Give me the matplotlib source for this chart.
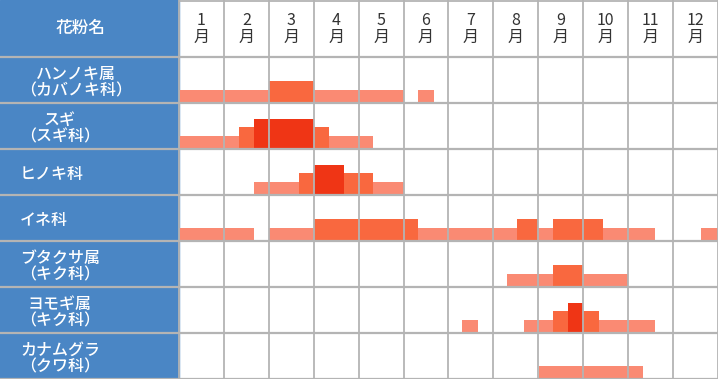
import matplotlib.pyplot as plt

plt.rcParams['font.family'] = ['Noto Sans CJK JP', 'DejaVu Sans']

months = [f"{m}\n月" for m in range(1, 13)]
pollen = ["ハンノキ属\n（カバノキ科）", "スギ\n（スギ科）", "ヒノキ科", "イネ科",
          "ブタクサ属\n（キク科）", "ヨモギ属\n（キク科）", "カナムグラ\n（クワ科）"]

# (start month, end month, level) per pollen; level 1=少, 2=やや多, 3=多
seasons = [
    [(0, 2, 1), (2, 3, 2), (3, 5, 1), (5.33, 5.67, 1)],
    [(0, 1.33, 1), (1.33, 1.67, 2), (1.67, 3, 3), (3, 3.33, 2), (3.33, 4.33, 1)],
    [(1.67, 2.67, 1), (2.67, 3, 2), (3, 3.67, 3), (3.67, 4.33, 2), (4.33, 5, 1)],
    [(0, 1.67, 1), (2, 3, 1), (3, 5.33, 2), (5.33, 7.53, 1), (7.53, 8, 2),
     (8, 8.33, 1), (8.33, 9.43, 2), (9.43, 10.6, 1), (11.63, 12, 1)],
    [(7.31, 8.33, 1), (8.33, 9, 2), (9, 10, 1)],
    [(6.31, 6.65, 1), (7.67, 8.33, 1), (8.33, 8.67, 2), (8.67, 9, 3),
     (9, 9.34, 2), (9.34, 10.6, 1)],
    [(8.02, 10.32, 1)],
]

level_h = {1: 0.28, 2: 0.47, 3: 0.66}
level_c = {1: '#FA8A73', 2: '#F9683F', 3: '#EF3515'}

blue = '#4A86C5'
grid = '#B4B4B4'

fig = plt.figure(figsize=(7.19, 3.80), dpi=100)
ax = fig.add_axes([0, 1 / 380, 718 / 719, 379 / 380])
label_w = 179 / 44.92
head_h = 57 / 46
ax.set_xlim(-label_w, 12)
ax.set_ylim(7, -head_h)
ax.axis('off')

ax.axvspan(-label_w, 0, color=blue, zorder=0)

for i, segs in enumerate(seasons):
    for s, e, lv in segs:
        ax.bar(s, -level_h[lv], width=e - s, bottom=i + 1, align='edge',
               color=level_c[lv], linewidth=0, zorder=2)

ax.vlines(range(0, 13), -head_h, 7, color=grid, lw=1.3, zorder=3)
ax.hlines(range(0, 8), -label_w, 12, color=grid, lw=1.6, zorder=3)
ax.hlines(-head_h + 0.02, 0, 12, color=grid, lw=1.3, zorder=3)

for j, m in enumerate(months):
    ax.text(j + 0.5, -0.6, m, ha='center', va='center', fontsize=11.5,
            color='#333333', linespacing=1.0, zorder=4)

ax.text(-label_w + 81 / 44.92, -0.62, "花粉名", ha='center', va='center',
        fontsize=12, color='white', fontweight='medium', zorder=4)
for i, name in enumerate(pollen):
    ax.text(-label_w + 20 / 44.92, i + 0.56, name, ha='left', va='center',
            multialignment='center', fontsize=11.5, color='white',
            fontweight='medium', linespacing=1.0, zorder=4)

fig.savefig('out.png', dpi=100)
